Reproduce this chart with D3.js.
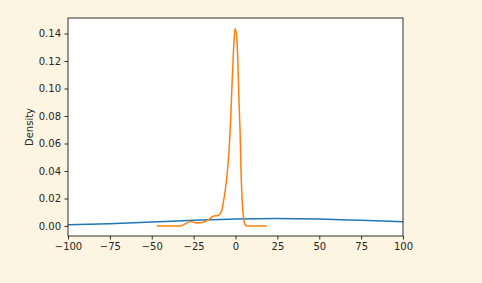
<!DOCTYPE html>
<html>
<head>
<meta charset="utf-8">
<script src="https://cdn.jsdelivr.net/npm/d3@7"></script>
<style>
  html, body { margin: 0; padding: 0; background: #fdf5e1; }
  svg { display: block; }
  text { font-family: "DejaVu Sans", sans-serif; font-size: 10px; fill: #262626; }
</style>
</head>
<body>
<div id="graph"></div>
<script>
"use strict";
(function() {
    // blue density (wide)
    const blueX = [-100, -75, -50, -25, 0, 25, 50, 75, 100];
    const blueY = [0.0008, 0.0017, 0.0028, 0.0041, 0.0051, 0.0054, 0.0050, 0.0041, 0.0031];

    // orange density (narrow peak near 0)
    const orangeX = [-47, -40, -33, -30, -27, -25, -23, -20, -18, -15, -13, -11, -9.5, -8, -7, -6, -5, -4, -3, -2, -1, -0.3,
                     0.5, 1.3, 2.1, 2.7, 3.3, 4.1, 5, 6, 7.5, 12, 18.7];
    const orangeY = [0, 0, 0, 0.0015, 0.0033, 0.0028, 0.0022, 0.0025, 0.0034, 0.0055, 0.0073, 0.0074, 0.0085, 0.012, 0.019, 0.027, 0.038, 0.052, 0.075, 0.105, 0.132, 0.1435,
                     0.140, 0.124, 0.090, 0.070, 0.040, 0.016, 0.004, 0.0005, 0, 0, 0];

    const xTicks = [-100, -75, -50, -25, 0, 25, 50, 75, 100];
    const yTicks = [0, 0.02, 0.04, 0.06, 0.08, 0.10, 0.12, 0.14];

    const size = { width: 482, height: 283 };
    const box = { left: 68, right: 403, top: 18, bottom: 236 };

    window.addEventListener("load", init);

    function init() {
        let svg = d3.select("#graph")
                    .append("svg")
                        .attr("width", size.width)
                        .attr("height", size.height);

        let x = d3.scaleLinear().domain([-100, 100]).range([box.left, box.right]);
        let y = d3.scaleLinear().domain([-0.0073, 0.1513]).range([box.bottom, box.top]);

        svg.append("rect")
            .attr("x", box.left).attr("y", box.top)
            .attr("width", box.right - box.left).attr("height", box.bottom - box.top)
            .attr("fill", "#ffffff");

        svg.append("clipPath").attr("id", "clip")
            .append("rect")
                .attr("x", box.left).attr("y", box.top)
                .attr("width", box.right - box.left).attr("height", box.bottom - box.top);

        let line = d3.line()
                    .x(d => x(d[0]))
                    .y(d => y(d[1]))
                    .curve(d3.curveMonotoneX);

        let plot = svg.append("g").attr("clip-path", "url(#clip)");

        plot.append("path")
            .datum(d3.zip(blueX, blueY))
            .attr("d", line)
            .attr("fill", "none")
            .attr("stroke", "#1f77b4")
            .attr("stroke-width", 1.5);

        plot.append("path")
            .datum(d3.zip(orangeX, orangeY))
            .attr("d", line)
            .attr("fill", "none")
            .attr("stroke", "#ff7f0e")
            .attr("stroke-width", 1.5)
            .attr("stroke-linejoin", "round");

        let fmtX = d => d3.format("d")(d).replace("-", "\u2212");

        let xAxis = svg.append("g")
            .attr("transform", "translate(0," + box.bottom + ")")
            .call(d3.axisBottom(x).tickValues(xTicks).tickFormat(fmtX).tickSize(3.5).tickPadding(3.5));

        let yAxis = svg.append("g")
            .attr("transform", "translate(" + box.left + ",0)")
            .call(d3.axisLeft(y).tickValues(yTicks).tickFormat(d3.format(".2f")).tickSize(3.5).tickPadding(3.5));

        [xAxis, yAxis].forEach(a => {
            a.select(".domain").remove();
            a.selectAll(".tick line").attr("stroke", "#000").attr("stroke-width", 0.8);
            a.selectAll(".tick text").attr("font-family", "DejaVu Sans").attr("font-size", 10).attr("fill", "#262626");
        });

        // frame
        svg.append("rect")
            .attr("x", box.left).attr("y", box.top)
            .attr("width", box.right - box.left).attr("height", box.bottom - box.top)
            .attr("fill", "none")
            .attr("stroke", "#000")
            .attr("stroke-width", 0.8);

        svg.append("text")
            .attr("transform", "translate(33," + ((box.top + box.bottom) / 2) + ") rotate(-90)")
            .attr("text-anchor", "middle")
            .text("Density");
    }
})();
</script>
</body>
</html>
